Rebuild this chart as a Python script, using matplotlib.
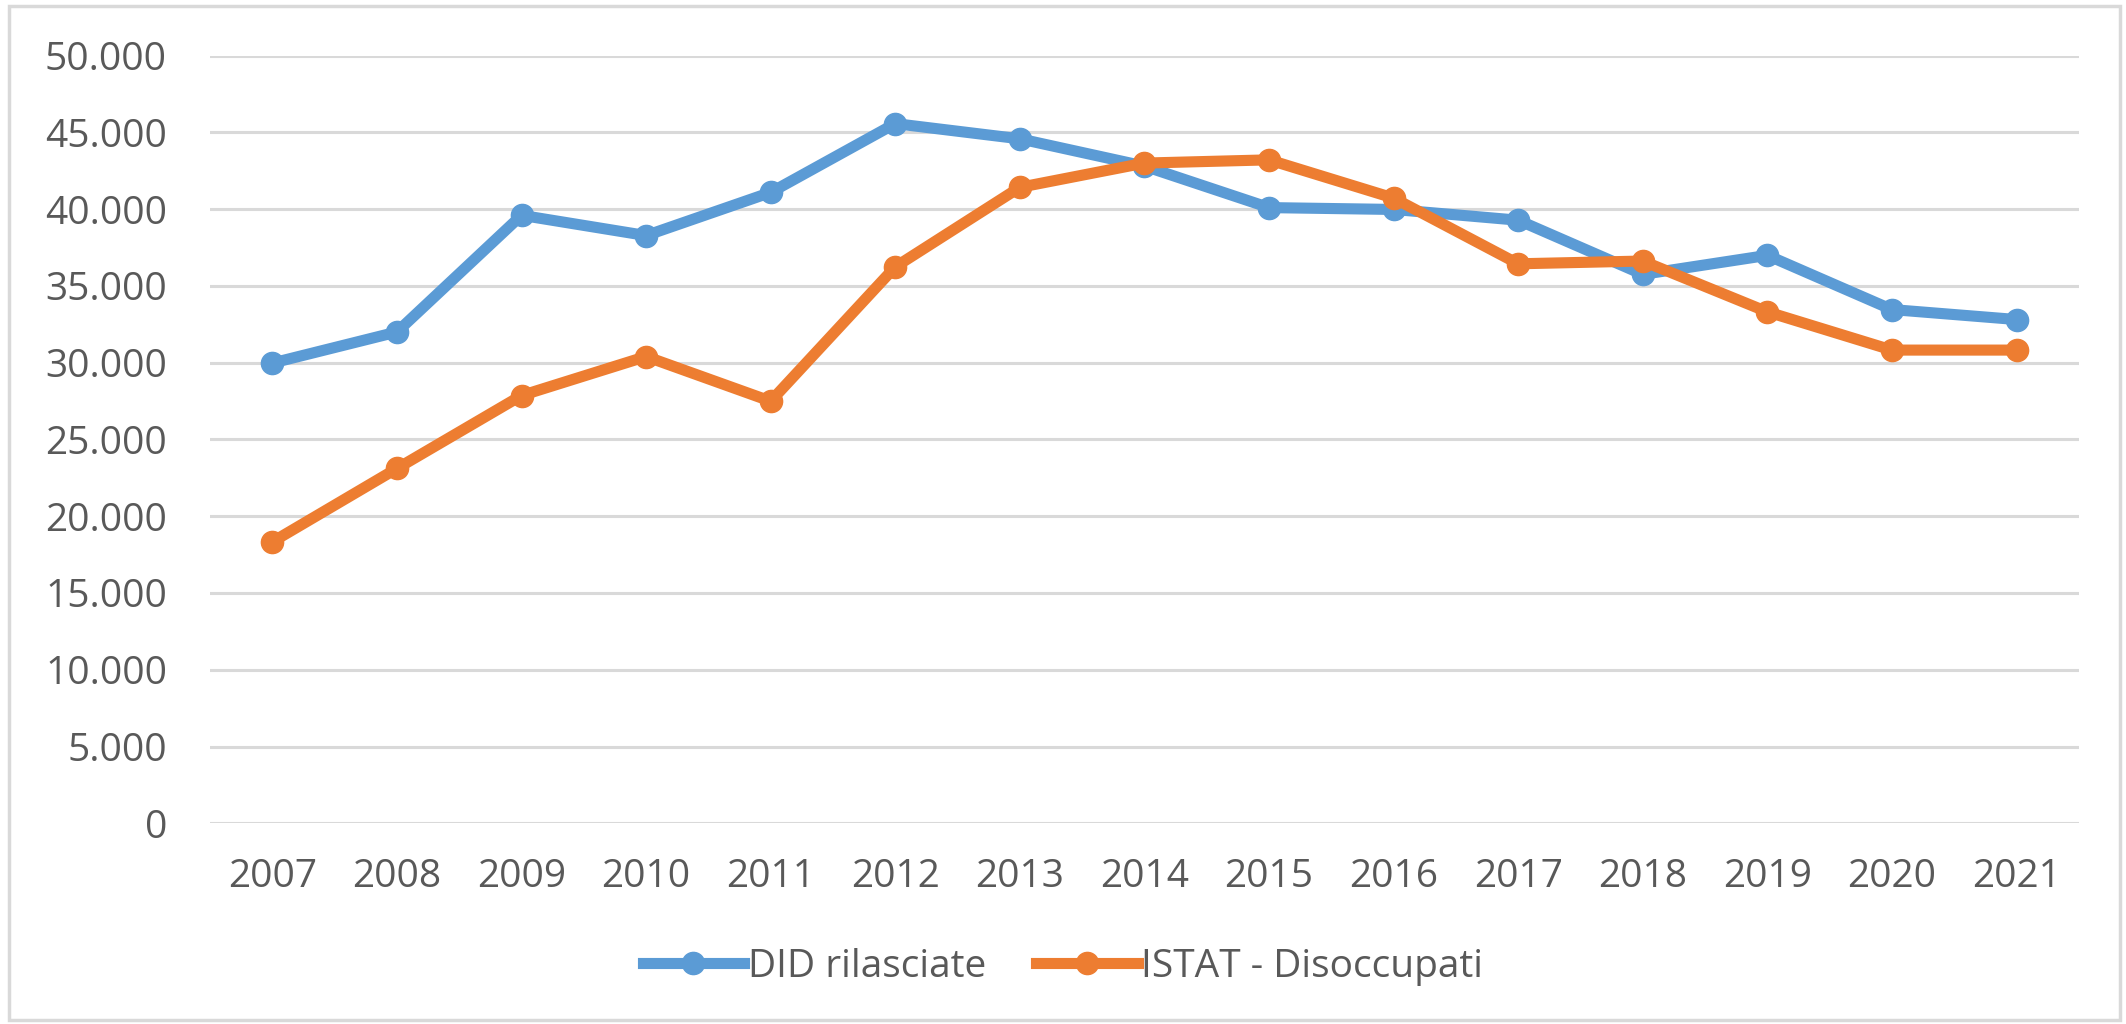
import matplotlib.pyplot as plt
from matplotlib.patches import Rectangle
from matplotlib.ticker import FuncFormatter

# --- Dati ---
anni = ["2007", "2008", "2009", "2010", "2011", "2012", "2013", "2014",
        "2015", "2016", "2017", "2018", "2019", "2020", "2021"]
did_rilasciate = [29975, 32000, 39600, 38280, 41090, 45570, 44580, 42800,
                  40100, 39980, 39280, 35750, 36990, 33460, 32810]
istat_disoccupati = [18330, 23110, 27860, 30400, 27490, 36240, 41420, 43000,
                     43210, 40720, 36440, 36620, 33310, 30820, 30820]

blu = "#5b9bd5"
arancio = "#ed7d31"
grigio = "#595959"

plt.rcParams["font.family"] = ["Open Sans", "DejaVu Sans"]

fig = plt.figure(figsize=(21.26, 10.24), dpi=100)
ax = fig.add_axes([0.0988, 0.196, 0.879, 0.7497])

x = range(len(anni))
ax.plot(x, did_rilasciate, "-o", color=blu, lw=8, ms=16, label="DID rilasciate",
        zorder=3)
ax.plot(x, istat_disoccupati, "-o", color=arancio, lw=8, ms=16,
        label="ISTAT - Disoccupati", zorder=4)

ax.set_xlim(-0.5, len(anni) - 0.5)
ax.set_ylim(0, 50000)
ax.set_yticks(range(0, 50001, 5000))
ax.yaxis.set_major_formatter(FuncFormatter(lambda v, p: f"{int(v):,}".replace(",", ".")))
ax.set_xticks(list(x))
ax.set_xticklabels(anni)

ax.grid(axis="y", color="#d9d9d9", lw=2.2)
ax.set_axisbelow(True)
for s in ax.spines.values():
    s.set_visible(False)
ax.tick_params(axis="both", length=0, labelsize=28, colors=grigio)
ax.tick_params(axis="y", pad=31)
ax.tick_params(axis="x", pad=25)

leg = fig.legend(loc="center", bbox_to_anchor=(0.5, 0.056), ncol=2,
                 frameon=False, fontsize=28, handlelength=2.6,
                 columnspacing=1.3, handletextpad=0.1)
for t in leg.get_texts():
    t.set_color(grigio)

# cornice del grafico
fig.patches.append(Rectangle((0.004, 0.004), 0.993, 0.99, transform=fig.transFigure,
                             fill=False, edgecolor="#d9d9d9", lw=2.5))

fig.savefig("out.png", dpi=100)
